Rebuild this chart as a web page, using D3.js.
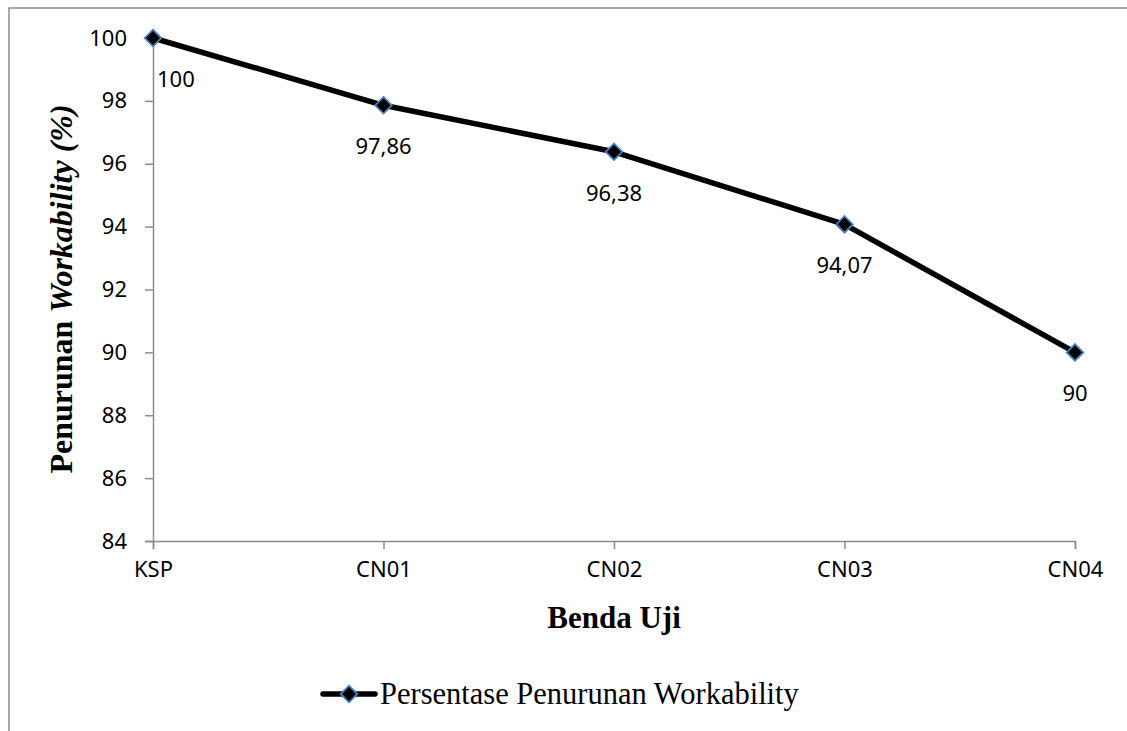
<!DOCTYPE html>
<html>
<head>
<meta charset="utf-8">
<script src="https://cdn.jsdelivr.net/npm/d3@7"></script>
<style>
  html, body { margin: 0; padding: 0; background: #fff; overflow: hidden; }
  svg { display: block; }
</style>
</head>
<body>
<svg id="chart" width="1127" height="731"></svg>
<script>
// data
const categories = ['KSP', 'CN01', 'CN02', 'CN03', 'CN04'];
const values = [100, 97.86, 96.38, 94.07, 90];
const valueLabels = ['100', '97,86', '96,38', '94,07', '90'];
const yTicks = [84, 86, 88, 90, 92, 94, 96, 98, 100];
const seriesName = 'Persentase Penurunan Workability';

let svg = d3.select('#chart');

let axisColor = '#8c8c8c';
let tickFont = '"Noto Sans", sans-serif';
let serif = '"Liberation Serif", "Times New Roman", serif';

// outer chart frame: only the left and top edges are inside the picture
svg.append('path')
  .attr('d', 'M9,1000 V8 H1400')
  .attr('fill', 'none')
  .attr('stroke', axisColor)
  .attr('stroke-width', 1.5);

let plot = { left: 153, right: 1075, top: 38, bottom: 541 };

let x = d3.scalePoint()
  .domain(categories)
  .range([plot.left, plot.right]);

let y = d3.scaleLinear()
  .domain([84, 100])
  .range([plot.bottom, plot.top]);

// y axis
let yAxis = svg.append('g')
  .attr('transform', `translate(${plot.left},0)`)
  .call(d3.axisLeft(y).tickValues(yTicks).tickSize(8).tickPadding(18).tickFormat(d3.format('d')));

// x axis
let xAxis = svg.append('g')
  .attr('transform', `translate(0,${plot.bottom})`)
  .call(d3.axisBottom(x).tickSize(8).tickPadding(12));

[yAxis, xAxis].forEach((g) => {
  g.select('.domain').attr('stroke', axisColor).attr('stroke-width', 1.5);
  g.selectAll('.tick line').attr('stroke', axisColor).attr('stroke-width', 1.5);
  g.selectAll('.tick text')
    .attr('fill', '#000')
    .style('font-family', tickFont)
    .style('font-size', '22px');
});

// the line
let line = d3.line()
  .x((d, i) => x(categories[i]))
  .y((d) => y(d));

svg.append('path')
  .datum(values)
  .attr('fill', 'none')
  .attr('stroke', '#000')
  .attr('stroke-width', 5.5)
  .attr('stroke-linejoin', 'round')
  .attr('d', line);

let diamond = d3.symbol().type(d3.symbolDiamond2).size(175);

svg.selectAll('.marker')
  .data(values)
  .enter().append('path')
  .attr('class', 'marker')
  .attr('transform', (d, i) => `translate(${x(categories[i])},${y(d)})`)
  .attr('d', diamond)
  .attr('fill', '#000')
  .attr('stroke', '#4a7ebb')
  .attr('stroke-width', 1.8);

// data labels below the points, nudged off the y axis when needed
let labels = svg.selectAll('.vlabel')
  .data(values)
  .enter().append('text')
  .attr('class', 'vlabel')
  .attr('x', (d, i) => x(categories[i]))
  .attr('y', (d) => y(d) + 40)
  .attr('text-anchor', 'middle')
  .attr('dominant-baseline', 'central')
  .style('font-family', tickFont)
  .style('font-size', '22px')
  .text((d, i) => valueLabels[i]);

labels.each(function() {
  let bb = this.getBBox();
  if (bb.x < plot.left + 4) {
    d3.select(this).attr('x', plot.left + 4 + bb.width / 2);
  }
});

// axis titles
svg.append('text')
  .attr('x', (plot.left + plot.right) / 2)
  .attr('y', 628)
  .attr('text-anchor', 'middle')
  .style('font-family', serif)
  .style('font-size', '31px')
  .style('font-weight', 'bold')
  .text('Benda Uji');

let yTitle = svg.append('text')
  .attr('transform', 'translate(72,289) rotate(-90)')
  .attr('text-anchor', 'middle')
  .style('font-family', serif)
  .style('font-size', '32px')
  .style('font-weight', 'bold');

yTitle.append('tspan').text('Penurunan ');
yTitle.append('tspan').style('font-style', 'italic').text('Workability (%)');

// legend
let legend = svg.append('g')
  .attr('transform', 'translate(323,694)');

legend.append('line')
  .attr('x1', 0)
  .attr('x2', 52)
  .attr('y1', 0)
  .attr('y2', 0)
  .attr('stroke', '#000')
  .attr('stroke-width', 5.5)
  .attr('stroke-linecap', 'round');

legend.append('path')
  .attr('transform', 'translate(26,0)')
  .attr('d', diamond)
  .attr('fill', '#000')
  .attr('stroke', '#4a7ebb')
  .attr('stroke-width', 1.8);

legend.append('text')
  .attr('x', 57)
  .attr('y', 10)
  .style('font-family', serif)
  .style('font-size', '30.5px')
  .text(seriesName);
</script>
</body>
</html>
